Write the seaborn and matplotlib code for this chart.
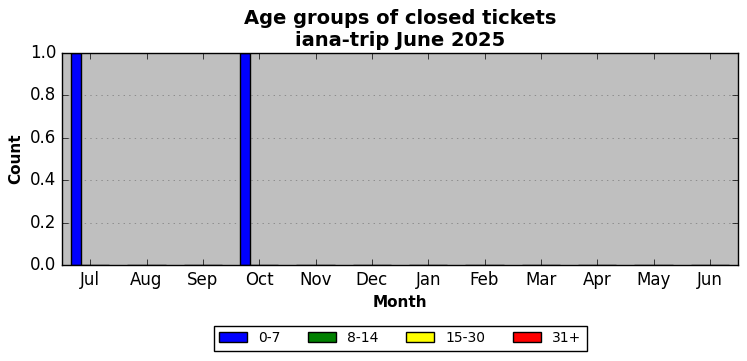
import pandas as pd
import matplotlib
matplotlib.use('Agg')
import matplotlib.pyplot as plt
import seaborn as sns

months = ['Jul', 'Aug', 'Sep', 'Oct', 'Nov', 'Dec', 'Jan', 'Feb', 'Mar', 'Apr', 'May', 'Jun']
groups = ['0-7', '8-14', '15-30', '31+']
age_0_7 = [1, 0, 0, 1, 0, 0, 0, 0, 0, 0, 0, 0]
age_8_14 = [0, 0, 0, 0, 0, 0, 0, 0, 0, 0, 0, 0]
age_15_30 = [0, 0, 0, 0, 0, 0, 0, 0, 0, 0, 0, 0]
age_31 = [0, 0, 0, 0, 0, 0, 0, 0, 0, 0, 0, 0]
colors = ['blue', 'green', 'yellow', 'red']

rows = []
for g, vals in zip(groups, [age_0_7, age_8_14, age_15_30, age_31]):
    for m, v in zip(months, vals):
        rows.append({'month': m, 'group': g, 'count': v})
df = pd.DataFrame(rows)

plt.style.use('classic')
fig = plt.figure(figsize=(7.47, 3.61), dpi=100)
ax = fig.add_axes([0.083, 0.266, 0.905, 0.587])
ax.set_facecolor('#bfbfbf')

sns.barplot(data=df, x='month', y='count', hue='group', order=months, hue_order=groups,
            palette=colors, width=0.68, edgecolor='black', linewidth=1, saturation=1,
            errorbar=None, ax=ax)

ax.set_xlim(-0.5, len(months) - 0.5)
ax.set_ylim(0, 1)
ax.set_yticks([0.0, 0.2, 0.4, 0.6, 0.8, 1.0])
ax.set_yticklabels(['0.0', '0.2', '0.4', '0.6', '0.8', '1.0'])
ax.yaxis.grid(True, linestyle=':', color='#8c8c8c', linewidth=0.7)
ax.xaxis.grid(False)
ax.set_axisbelow(True)
ax.tick_params(axis='both', labelsize=12)
ax.set_xlabel('Month', fontsize=11, fontweight='bold')
ax.set_ylabel('Count', fontsize=11, fontweight='bold')
ax.set_title('Age groups of closed tickets\niana-trip June 2025', fontsize=14, fontweight='bold')

handles, labels = ax.get_legend_handles_labels()
ax.get_legend().remove()
ax.legend(handles, labels, loc='center', bbox_to_anchor=(0.5, -0.345),
          ncol=4, fontsize=10, frameon=True)

fig.savefig('out.png', dpi=100, facecolor='white')
